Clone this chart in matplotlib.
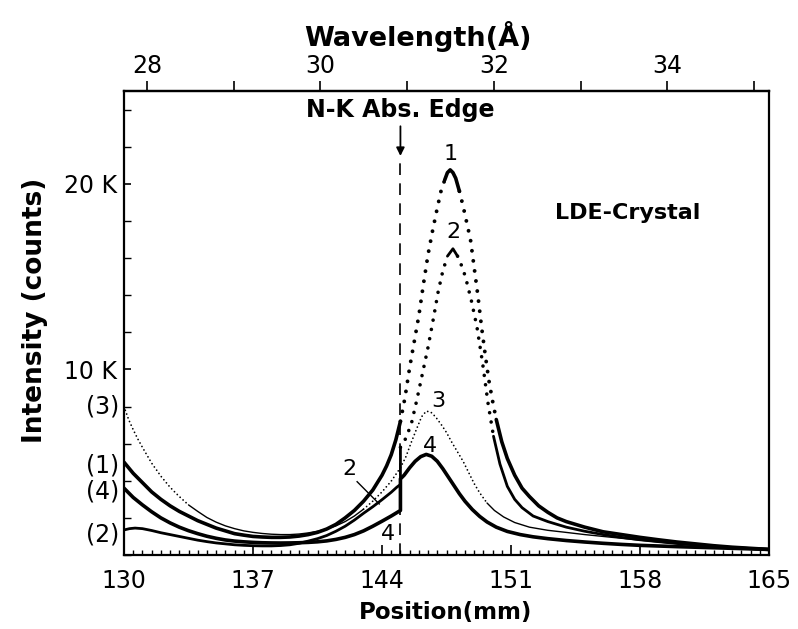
import numpy as np
import matplotlib
matplotlib.use("Agg")
import matplotlib.pyplot as plt
from matplotlib.ticker import FixedLocator, MultipleLocator, NullFormatter

plt.rcParams['font.family'] = ['DejaVu Sans']

# ---------------- data (position in mm, intensity in thousands of counts) ----------------
c1_x = [130.0, 130.25, 130.5, 131, 131.5, 132, 132.5, 133, 133.5, 134, 134.5, 135, 135.5,
        136, 136.5, 137, 137.5, 138, 138.5, 139, 139.5, 140, 140.5, 141, 141.5, 142, 142.5,
        143, 143.5, 144, 144.25, 144.5, 144.75, 145, 145.25, 145.5, 145.75, 146, 146.25,
        146.5, 146.75, 147, 147.2, 147.4, 147.55, 147.7, 147.85, 148, 148.2, 148.4, 148.6,
        148.8, 149.0, 149.2, 149.4, 149.6, 149.8, 150.0, 150.2, 150.5, 150.8, 151.2, 151.6,
        152.0, 152.5, 153, 153.5, 154, 155, 156, 157, 158, 159, 160, 161, 162, 163, 164, 165]
c1_y = [5.0, 4.7, 4.4, 3.9, 3.4, 3.0, 2.65, 2.35, 2.1, 1.85, 1.65, 1.45, 1.3,
        1.15, 1.07, 1.0, 0.97, 0.95, 0.95, 0.97, 1.02, 1.1, 1.22, 1.4, 1.65, 2.0, 2.4,
        2.9, 3.5, 4.3, 4.8, 5.4, 6.2, 7.2, 8.5, 10.1, 11.5, 12.9, 14.6,
        16.2, 17.5, 18.7, 19.6, 20.2, 20.6, 20.75, 20.6, 20.3, 19.6, 18.8, 17.9,
        17.0, 15.5, 14.0, 12.3, 10.8, 9.4, 8.3, 7.3, 6.1, 5.2, 4.3, 3.6,
        3.15, 2.65, 2.3, 2.0, 1.8, 1.5, 1.25, 1.1, 0.95, 0.82, 0.7, 0.6, 0.5, 0.42, 0.36, 0.3]

c2_x = [130, 130.3, 130.6, 131, 131.5, 132, 132.5, 133, 133.5, 134, 134.5, 135, 135.5, 136,
        136.5, 137, 137.5, 138, 138.5, 139, 139.5, 140, 140.5, 141, 141.5, 142, 142.5, 143,
        143.5, 144, 144.5, 144.8, 145.0, 145.0, 145.3, 145.6, 145.9, 146.2, 146.5, 146.8,
        147.05, 147.3, 147.55, 147.85, 148.1, 148.4, 148.6, 148.85, 149.15, 149.45, 149.75,
        150.05, 150.4, 150.8, 151.2, 151.6, 152.2, 153, 154, 155, 156, 157, 158, 159, 160,
        161, 162, 163, 164, 165]
c2_y = [1.35, 1.42, 1.45, 1.42, 1.32, 1.2, 1.1, 1.0, 0.9, 0.8, 0.72, 0.65, 0.6, 0.55,
        0.52, 0.5, 0.49, 0.49, 0.51, 0.55, 0.63, 0.75, 0.88, 1.05, 1.28, 1.55, 1.88, 2.25,
        2.6, 2.98, 3.38, 3.65, 3.8, 5.8, 6.3, 7.1, 8.4, 9.8, 11.2, 12.8,
        14.2, 15.3, 16.1, 16.5, 16.1, 15.4, 14.7, 13.7, 12.3, 10.4, 8.2,
        6.4, 4.9, 3.7, 3.0, 2.55, 2.1, 1.8, 1.5, 1.28, 1.1, 0.95, 0.82, 0.72, 0.62,
        0.54, 0.47, 0.4, 0.35, 0.3]

c3_x = [130, 130.25, 130.5, 130.75, 131, 131.5, 132, 132.5, 133, 133.5, 134, 134.5, 135,
        135.5, 136, 136.5, 137, 137.5, 138, 138.5, 139, 139.5, 140, 140.5, 141, 141.5, 142,
        142.5, 143, 143.5, 144, 144.5, 145, 145.3, 145.6, 145.9, 146.15, 146.4, 146.65,
        146.9, 147.2, 147.5, 147.8, 148.1, 148.4, 148.7, 149.0, 149.3, 149.7, 150.1, 150.6,
        151.2, 152, 153, 153.8, 155, 156, 157, 158, 159, 160, 161, 162, 163, 164, 165]
c3_y = [8.0, 7.3, 6.75, 6.25, 5.8, 4.95, 4.25, 3.65, 3.15, 2.7, 2.35, 2.02, 1.77,
        1.57, 1.42, 1.3, 1.22, 1.16, 1.12, 1.1, 1.1, 1.13, 1.19, 1.28, 1.4, 1.57, 1.8,
        2.1, 2.47, 2.9, 3.4, 3.98, 4.7, 5.3, 6.1, 6.85, 7.45, 7.75, 7.7,
        7.45, 7.05, 6.6, 6.05, 5.55, 5.05, 4.45, 3.85, 3.35, 2.8, 2.4, 2.05,
        1.75, 1.5, 1.33, 1.24, 1.1, 1.0, 0.9, 0.8, 0.7, 0.61, 0.54, 0.47, 0.41, 0.35, 0.3]

c4_x = [130, 130.25, 130.5, 130.75, 131, 131.5, 132, 132.5, 133, 133.5, 134, 134.5, 135,
        135.5, 136, 136.5, 137, 137.5, 138, 138.5, 139, 139.5, 140, 140.5, 141, 141.5, 142,
        142.5, 143, 143.5, 144, 144.5, 144.8, 145.0, 145.0, 145.2, 145.5, 145.8, 146.1,
        146.4, 146.7, 147.0, 147.3, 147.6, 147.9, 148.2, 148.5, 148.9, 149.3, 149.7, 150.2,
        150.8, 151.5, 152.2, 153, 154, 155, 156, 157, 158, 160, 162, 165]
c4_y = [3.6, 3.35, 3.1, 2.9, 2.7, 2.33, 2.0, 1.73, 1.5, 1.31, 1.15, 1.01, 0.9,
        0.81, 0.75, 0.71, 0.68, 0.66, 0.65, 0.645, 0.65, 0.66, 0.68, 0.71, 0.76, 0.84, 0.95,
        1.1, 1.3, 1.55, 1.82, 2.1, 2.28, 2.4, 4.1, 4.3, 4.7, 5.05, 5.3,
        5.42, 5.32, 5.05, 4.65, 4.2, 3.75, 3.3, 2.9, 2.45, 2.08, 1.78, 1.5,
        1.27, 1.1, 0.98, 0.88, 0.78, 0.7, 0.63, 0.57, 0.52, 0.45, 0.39, 0.3]

edge_mm = 145.0
x_ticks = [130, 137, 144, 151, 158, 165]
wl_major = [28, 30, 32, 34]
wl_minor = [29, 31, 33, 35]
y_major = [10000, 20000]
y_major_labels = ['10 K', '20 K']
left_labels = ['(3)', '(1)', '(4)', '(2)']
left_label_y = [8000, 4800, 3400, 1100]

K = 1000.0

def mm2wl(x):
    return 28 + (np.asarray(x) - 131.25) / 4.705

def wl2mm(w):
    return 131.25 + (np.asarray(w) - 28) * 4.705

fig = plt.figure(figsize=(7.98, 6.29), dpi=100)
ax = fig.add_axes([124/798, 1-555/629, (769-124)/798, (555-91)/629])


def draw_curve(xs, ys, lw, dot_lo, dot_hi, dot_lw=None, dot_gap=2.4):
    xs = np.asarray(xs, float)
    ys = np.asarray(ys, float) * K
    n = len(xs)
    seg_dot = [(min(ys[i], ys[i+1]) >= dot_lo*K - 1 and max(ys[i], ys[i+1]) <= dot_hi*K + 1)
               for i in range(n-1)]
    i = 0
    while i < n-1:
        j = i
        while j < n-1 and seg_dot[j] == seg_dot[i]:
            j += 1
        if seg_dot[i]:
            ax.plot(xs[i:j+1], ys[i:j+1], color='black', lw=dot_lw or lw,
                    linestyle=(0, (0.01, dot_gap)), dash_capstyle='round')
        else:
            ax.plot(xs[i:j+1], ys[i:j+1], color='black', lw=lw,
                    solid_capstyle='round', solid_joinstyle='round')
        i = j

draw_curve(c1_x, c1_y, 2.6, 7.2, 20.25, dot_lw=2.8, dot_gap=2.6)
draw_curve(c2_x, c2_y, 2.0, 5.8, 16.15, dot_lw=2.6, dot_gap=2.6)
draw_curve(c3_x, c3_y, 1.0, 2.45, 8.0, dot_lw=1.3, dot_gap=2.2)
draw_curve(c4_x, c4_y, 2.6, 99, 99)

# absorption edge marker
ax.plot([edge_mm, edge_mm], [0, 21.5*K], color='black', lw=1.2, linestyle=(0, (7, 5)))
ax.annotate('', xy=(edge_mm, 21.5*K), xytext=(edge_mm, 23.1*K),
            arrowprops=dict(arrowstyle='-|>', lw=1.3, color='black', mutation_scale=12,
                            shrinkA=0, shrinkB=0))
ax.text(edge_mm, 23.95*K, 'N-K Abs. Edge', ha='center', va='center',
        fontsize=17, fontweight='bold')
ax.text(153.4, 18.4*K, 'LDE-Crystal', ha='left', va='center', fontsize=16,
        fontweight='bold')

# curve labels
lab_fs = 16
ax.text(147.75, 21.6*K, '1', ha='center', va='center', fontsize=lab_fs)
ax.text(147.9, 17.4*K, '2', ha='center', va='center', fontsize=lab_fs)
ax.text(147.05, 8.3*K, '3', ha='center', va='center', fontsize=lab_fs)
ax.text(146.6, 5.85*K, '4', ha='center', va='center', fontsize=lab_fs)
ax.text(142.25, 4.65*K, '2', ha='center', va='center', fontsize=lab_fs)
ax.plot([142.65, 143.85], [3.95*K, 2.75*K], color='black', lw=1.0)
ax.text(144.3, 1.15*K, '4', ha='center', va='center', fontsize=lab_fs)

trans = matplotlib.transforms.blended_transform_factory(ax.transAxes, ax.transData)
for t, yv in zip(left_labels, left_label_y):
    ax.text(-0.007, yv, t, transform=trans, ha='right', va='center', fontsize=17)

# axes limits and ticks
ax.set_xlim(130, 165)
ax.set_ylim(0, 25*K)
ax.xaxis.set_major_locator(FixedLocator(x_ticks))
ax.xaxis.set_minor_locator(MultipleLocator(0.5))
ax.set_xticklabels([str(v) for v in x_ticks])
ax.yaxis.set_major_locator(FixedLocator(y_major))
ax.yaxis.set_minor_locator(MultipleLocator(2000))
ax.set_yticklabels(y_major_labels)
ax.tick_params(axis='x', which='major', direction='in', length=7, width=1.2,
               labelsize=17, pad=10, top=False)
ax.tick_params(axis='x', which='minor', direction='in', length=3.5, width=1.0, top=False)
ax.tick_params(axis='y', which='major', direction='in', length=5, width=1.2,
               labelsize=17, pad=5, right=False)
ax.tick_params(axis='y', which='minor', direction='in', length=5, width=1.0, right=False)
for s in ax.spines.values():
    s.set_linewidth(1.6)

sec = ax.secondary_xaxis('top', functions=(mm2wl, wl2mm))
sec.xaxis.set_major_locator(FixedLocator(wl_major))
sec.xaxis.set_minor_locator(FixedLocator(wl_minor))
sec.xaxis.set_minor_formatter(NullFormatter())
sec.tick_params(axis='x', which='major', direction='out', length=7, width=1.2,
                labelsize=17, pad=2)
sec.tick_params(axis='x', which='minor', direction='out', length=7, width=1.2)
sec.spines['top'].set_linewidth(1.6)

fig.text(446/798, 1-612/629, 'Position(mm)', ha='center', va='center',
         fontsize=16.5, fontweight='bold')
fig.text(418/798, 1-36/629, 'Wavelength(Å)', ha='center', va='center',
         fontsize=19.5, fontweight='bold')
fig.text(35/798, 1-310/629, 'Intensity (counts)', ha='center', va='center',
         rotation=90, fontsize=19, fontweight='bold')

fig.savefig('out.png', dpi=100)
